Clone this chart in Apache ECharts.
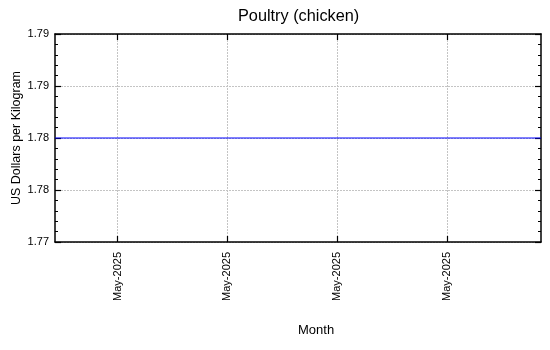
<!DOCTYPE html>
<html>
<head>
<meta charset="utf-8">
<script src="https://cdn.jsdelivr.net/npm/echarts@6/dist/echarts.min.js"></script>
<style>html,body{margin:0;padding:0;background:#fff}#c{width:550px;height:350px}</style>
</head>
<body>
<div id="c"></div>
<script>
var titleText = 'Poultry (chicken)';
var xName = 'Month';
var yName = 'US Dollars per Kilogram';
var dates = ['2025-05-01', '2025-06-01'];
var values = [1.78, 1.78];
var xTickDates = ['2025-05-05', '2025-05-12', '2025-05-19', '2025-05-26'];
var xTickLabels = ['May-2025', 'May-2025', 'May-2025', 'May-2025'];
var yTicks = [1.77, 1.775, 1.78, 1.785, 1.79];
var yTickLabels = ['1.77', '1.78', '1.78', '1.79', '1.79'];
var xMin = '2025-05-01', xMax = '2025-06-01';

function ts(s) { var p = s.split('-'); return Date.UTC(+p[0], +p[1] - 1, +p[2]); }
var xTickTs = xTickDates.map(ts);
var FONT = 'Liberation Sans, Arial, sans-serif';

var chart = echarts.init(document.getElementById('c'), null, {renderer: 'canvas'});
function gridLine() { return {show: true, lineStyle: {color: '#c4c4c4', width: 1, type: [2, 1]}}; }
function mkX(pos, labels) {
  return {
    type: 'value', position: pos, min: ts(xMin), max: ts(xMax),
    axisLine: {show: true, onZero: false, lineStyle: {color: '#000', width: 1.5}},
    axisTick: {show: true, inside: true, length: 6, customValues: xTickTs, lineStyle: {color: '#000', width: 1.2}},
    axisLabel: labels ? {show: true, customValues: xTickTs, rotate: 90, margin: 10, color: '#000', fontSize: 11, fontFamily: FONT,
      formatter: function (v) { var i = xTickTs.indexOf(v); return i >= 0 ? xTickLabels[i] : ''; }} : {show: false},
    splitLine: labels ? gridLine() : {show: false}
  };
}
function mkY(pos, labels) {
  var a = {
    type: 'value', position: pos, min: yTicks[0], max: yTicks[yTicks.length - 1], interval: 0.005,
    axisLine: {show: true, onZero: false, lineStyle: {color: '#000', width: 1.5}},
    axisTick: {show: true, inside: true, length: 6, lineStyle: {color: '#000', width: 1.2}},
    minorTick: {show: true, splitNumber: 5, length: 3, lineStyle: {color: '#000', width: 1}},
    axisLabel: {show: false},
    splitLine: {show: false}
  };
  if (labels) {
    a.name = yName; a.nameLocation = 'middle'; a.nameGap = 32; a.nameRotate = 90; a.nameMoveOverlap = false;
    a.nameTextStyle = {color: '#000', fontSize: 12.5, fontFamily: FONT};
    a.axisLabel = {show: true, margin: 6, color: '#000', fontSize: 11, fontFamily: FONT,
      formatter: function (v) {
        for (var i = 0; i < yTicks.length; i++) if (Math.abs(yTicks[i] - v) < 1e-9) return yTickLabels[i];
        return '';
      }};
    a.splitLine = gridLine();
  }
  return a;
}

chart.setOption({
  animation: false,
  backgroundColor: '#fff',
  title: {text: titleText, left: 238, top: 9, padding: 0,
    textStyle: {color: '#000', fontSize: 16.3, fontWeight: 'normal', fontFamily: FONT}},
  grid: {left: 55, right: 9, top: 34, bottom: 108, containLabel: false, outerBoundsMode: 'none'},
  xAxis: [mkX('bottom', true), mkX('top', false)],
  yAxis: [mkY('left', true), mkY('right', false)],
  graphic: [{type: 'text', left: 298, top: 324, style: {text: xName, fill: '#000', font: '13px ' + FONT}}],
  series: [{
    type: 'line', xAxisIndex: 0, yAxisIndex: 0, showSymbol: false,
    data: dates.map(function (d, i) { return [ts(d), values[i]]; }),
    lineStyle: {color: '#0000ff', width: 1}
  }]
});
</script>
</body>
</html>
